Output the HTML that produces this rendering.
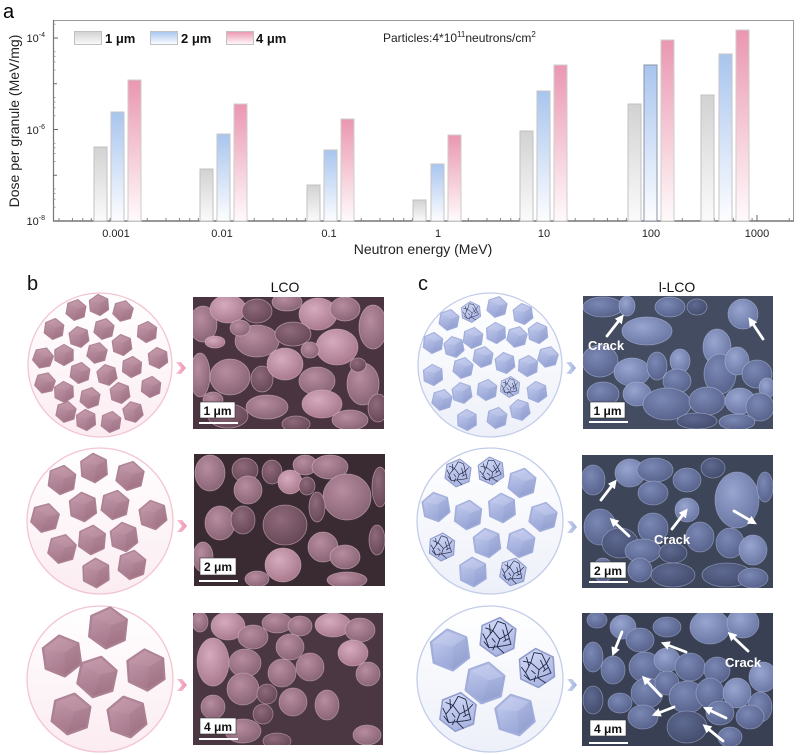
<!DOCTYPE html>
<html><head><meta charset="utf-8"><style>
html,body{margin:0;padding:0;background:#fff;}
svg{display:block;font-family:"Liberation Sans",Arial,sans-serif;}
</style></head><body>
<svg width="800" height="755" viewBox="0 0 800 755" xmlns="http://www.w3.org/2000/svg">
<defs>
<linearGradient id="gG" x1="0" y1="0" x2="0" y2="1"><stop offset="0" stop-color="#d2d2d2"/><stop offset="1" stop-color="#fbfbfb"/></linearGradient>
<linearGradient id="gB" x1="0" y1="0" x2="0" y2="1"><stop offset="0" stop-color="#a8c5ee"/><stop offset="1" stop-color="#fdfdff"/></linearGradient>
<linearGradient id="gP" x1="0" y1="0" x2="0" y2="1"><stop offset="0" stop-color="#ea97b0"/><stop offset="1" stop-color="#fffafb"/></linearGradient>
<linearGradient id="cP" x1="0" y1="0" x2="0" y2="1"><stop offset="0" stop-color="#ffffff"/><stop offset="1" stop-color="#fbecf1"/></linearGradient>
<linearGradient id="cB" x1="0" y1="0" x2="0" y2="1"><stop offset="0" stop-color="#ffffff"/><stop offset="1" stop-color="#edf0f9"/></linearGradient>
<linearGradient id="hP" x1="0.2" y1="0" x2="0.6" y2="1"><stop offset="0" stop-color="#c39bac"/><stop offset="1" stop-color="#a37587"/></linearGradient>
<linearGradient id="hB" x1="0.2" y1="0" x2="0.6" y2="1"><stop offset="0" stop-color="#c3ccf0"/><stop offset="1" stop-color="#95a2d3"/></linearGradient>
<linearGradient id="hBc" x1="0.2" y1="0" x2="0.6" y2="1"><stop offset="0" stop-color="#d3daf6"/><stop offset="1" stop-color="#a9b4e0"/></linearGradient>
<linearGradient id="chP" x1="0" y1="0" x2="1" y2="0"><stop offset="0" stop-color="#f7c3d2"/><stop offset="1" stop-color="#ee93b0"/></linearGradient>
<linearGradient id="chB" x1="0" y1="0" x2="1" y2="0"><stop offset="0" stop-color="#d1d9f1"/><stop offset="1" stop-color="#9fb0df"/></linearGradient>
<radialGradient id="pl" cx="0.4" cy="0.35" r="0.7"><stop offset="0" stop-color="#d6abbe"/><stop offset="1" stop-color="#a67689"/></radialGradient>
<radialGradient id="pm" cx="0.4" cy="0.35" r="0.7"><stop offset="0" stop-color="#b78c9f"/><stop offset="1" stop-color="#876374"/></radialGradient>
<radialGradient id="pd" cx="0.4" cy="0.35" r="0.7"><stop offset="0" stop-color="#8f6a7b"/><stop offset="1" stop-color="#654655"/></radialGradient>
<radialGradient id="bl" cx="0.4" cy="0.35" r="0.7"><stop offset="0" stop-color="#98a5cf"/><stop offset="1" stop-color="#6875a2"/></radialGradient>
<radialGradient id="bm" cx="0.4" cy="0.35" r="0.7"><stop offset="0" stop-color="#7a88b4"/><stop offset="1" stop-color="#56618a"/></radialGradient>
<radialGradient id="bd" cx="0.4" cy="0.35" r="0.7"><stop offset="0" stop-color="#5f6a92"/><stop offset="1" stop-color="#424b6b"/></radialGradient>
<g id="hexP"><polygon points="0,-10 8.66,-5 8.66,5 0,10 -8.66,5 -8.66,-5" fill="url(#hP)" stroke="#ad8294" stroke-width="1.2" stroke-linejoin="round"/><polygon points="0,-10 8.66,-5 1.5,-1.5 -8.66,-5" fill="#d0a9b9" opacity="0.18"/><polygon points="8.66,-5 8.66,5 0,10 1.5,-1.5" fill="#8d6273" opacity="0.12"/></g>
<g id="hexB"><polygon points="0,-10 8.66,-5 8.66,5 0,10 -8.66,5 -8.66,-5" fill="url(#hB)" stroke="#a2aedb" stroke-width="1.2" stroke-linejoin="round"/><polygon points="0,-10 8.66,-5 1.5,-1.5 -8.66,-5" fill="#dbe1f8" opacity="0.22"/><polygon points="8.66,-5 8.66,5 0,10 1.5,-1.5" fill="#7c89bf" opacity="0.12"/></g>
<g id="hexC"><polygon points="0,-10 8.66,-5 8.66,5 0,10 -8.66,5 -8.66,-5" fill="url(#hBc)" stroke="#8f9bcc" stroke-width="0.8" stroke-linejoin="round"/><path d="M-7,-4 L-3,-3 L-1,-8 M-3,-3 L1,1 L5,-2 L7,-5 M5,-2 L3,-7 M1,1 L0,5 L-4,6 L-7,3 M0,5 L4,8 M-3,-3 L-6,2 L-4,6 M5,-2 L7,3 L4,4 L0,5 M-1,-8 L3,-7 M-6,2 L-8,-1 M2,-4 L4,1 M-3,1 L-1,3 M-5,-6 L-4,-1 M6,0 L3,2 M-2,7 L-1,4" fill="none" stroke="#1d2342" stroke-width="0.45"/></g>
<marker id="ah" viewBox="0 0 10 10" refX="5" refY="5" markerWidth="3.2" markerHeight="3.2" orient="auto"><path d="M0,0 L10,5 L0,10 z" fill="#fff"/></marker>
<clipPath id="s1"><rect x="193" y="297" width="191" height="132"/></clipPath>
<clipPath id="s2"><rect x="194" y="454" width="191" height="132"/></clipPath>
<clipPath id="s3"><rect x="193" y="613" width="190" height="132"/></clipPath>
<clipPath id="s4"><rect x="583" y="296" width="190" height="133"/></clipPath>
<clipPath id="s5"><rect x="582" y="455" width="191" height="133"/></clipPath>
<clipPath id="s6"><rect x="582" y="613" width="191" height="133"/></clipPath>
</defs>

<!-- ===== Panel a ===== -->
<text x="3" y="18" font-size="20">a</text>
<rect x="53.5" y="20.5" width="740" height="200.5" fill="none" stroke="#9a9a9a" stroke-width="1"/>
<line x1="53" y1="221" x2="794" y2="221" stroke="#777" stroke-width="1.5"/>
<line x1="53.5" y1="20" x2="53.5" y2="221" stroke="#777" stroke-width="1.2"/>
<g stroke="#666" stroke-width="1">
<line x1="53" y1="38" x2="58" y2="38"/><line x1="53" y1="83.75" x2="57" y2="83.75"/><line x1="53" y1="129.5" x2="58" y2="129.5"/><line x1="53" y1="175.25" x2="57" y2="175.25"/>
</g>
<g stroke="#888" stroke-width="0.8">
<line x1="53" y1="207.2" x2="55.5" y2="207.2"/><line x1="53" y1="199.2" x2="55.5" y2="199.2"/><line x1="53" y1="193.5" x2="55.5" y2="193.5"/><line x1="53" y1="189" x2="55.5" y2="189"/>
<line x1="53" y1="161.5" x2="55.5" y2="161.5"/><line x1="53" y1="153.5" x2="55.5" y2="153.5"/><line x1="53" y1="147.8" x2="55.5" y2="147.8"/><line x1="53" y1="143.3" x2="55.5" y2="143.3"/>
<line x1="53" y1="115.7" x2="55.5" y2="115.7"/><line x1="53" y1="107.7" x2="55.5" y2="107.7"/><line x1="53" y1="102" x2="55.5" y2="102"/><line x1="53" y1="97.5" x2="55.5" y2="97.5"/>
<line x1="53" y1="70" x2="55.5" y2="70"/><line x1="53" y1="62" x2="55.5" y2="62"/><line x1="53" y1="56.3" x2="55.5" y2="56.3"/><line x1="53" y1="51.8" x2="55.5" y2="51.8"/>
<line x1="53" y1="24.2" x2="55.5" y2="24.2"/>
</g>
<g font-size="11" fill="#222" text-anchor="end">
<text x="45" y="42">10<tspan font-size="7" dy="-5">-4</tspan></text>
<text x="45" y="134">10<tspan font-size="7" dy="-5">-6</tspan></text>
<text x="45" y="225">10<tspan font-size="7" dy="-5">-8</tspan></text>
</g>
<text transform="translate(19,121) rotate(-90)" font-size="14" text-anchor="middle" fill="#222">Dose per granule (MeV/mg)</text>
<g stroke="#666" stroke-width="1">
<line x1="115" y1="221" x2="115" y2="215"/><line x1="222" y1="221" x2="222" y2="215"/><line x1="329" y1="221" x2="329" y2="215"/><line x1="436" y1="221" x2="436" y2="215"/><line x1="543" y1="221" x2="543" y2="215"/><line x1="650" y1="221" x2="650" y2="215"/><line x1="757" y1="221" x2="757" y2="215"/>
</g>
<g stroke="#777" stroke-width="0.9">
<path d="M59,221v-3M72.4,221v-3M82.8,221v-3M91.3,221v-3M98.4,221v-3M104.6,221v-3M110.1,221v-3
M147.2,221v-3M166,221v-3M179.4,221v-3M189.8,221v-3M198.3,221v-3M205.4,221v-3M211.6,221v-3M217.1,221v-3
M254.2,221v-3M273,221v-3M286.4,221v-3M296.8,221v-3M305.3,221v-3M312.4,221v-3M318.6,221v-3M324.1,221v-3
M361.2,221v-3M380,221v-3M393.4,221v-3M403.8,221v-3M412.3,221v-3M419.4,221v-3M425.6,221v-3M431.1,221v-3
M468.2,221v-3M487,221v-3M500.4,221v-3M510.8,221v-3M519.3,221v-3M526.4,221v-3M532.6,221v-3M538.1,221v-3
M575.2,221v-3M594,221v-3M607.4,221v-3M617.8,221v-3M626.3,221v-3M633.4,221v-3M639.6,221v-3M645.1,221v-3
M682.2,221v-3M701,221v-3M714.4,221v-3M724.8,221v-3M733.3,221v-3M740.4,221v-3M746.6,221v-3M752.1,221v-3M789.2,221v-3"/>
</g>
<g font-size="11" fill="#222" text-anchor="middle">
<text x="116" y="237">0.001</text><text x="222" y="237">0.01</text><text x="329" y="237">0.1</text><text x="438" y="237">1</text><text x="544" y="237">10</text><text x="651" y="237">100</text><text x="757" y="237">1000</text>
</g>
<text x="423" y="254" font-size="14" text-anchor="middle" fill="#222">Neutron energy (MeV)</text>
<g stroke-width="1">
<rect x="94" y="147" width="13" height="74" fill="url(#gG)" stroke="#c2c2c2"/>
<rect x="111" y="112" width="13" height="109" fill="url(#gB)" stroke="#c6c6c6"/>
<rect x="128" y="80" width="13" height="141" fill="url(#gP)" stroke="#cdcdcd"/>
<rect x="200" y="169" width="13" height="52" fill="url(#gG)" stroke="#c2c2c2"/>
<rect x="217" y="134" width="13" height="87" fill="url(#gB)" stroke="#c6c6c6"/>
<rect x="234" y="104" width="13" height="117" fill="url(#gP)" stroke="#cdcdcd"/>
<rect x="307" y="185" width="13" height="36" fill="url(#gG)" stroke="#c2c2c2"/>
<rect x="324" y="150" width="13" height="71" fill="url(#gB)" stroke="#c6c6c6"/>
<rect x="341" y="119" width="13" height="102" fill="url(#gP)" stroke="#cdcdcd"/>
<rect x="413" y="200" width="13" height="21" fill="url(#gG)" stroke="#c2c2c2"/>
<rect x="431" y="164" width="13" height="57" fill="url(#gB)" stroke="#c6c6c6"/>
<rect x="448" y="135" width="13" height="86" fill="url(#gP)" stroke="#cdcdcd"/>
<rect x="520" y="131" width="13" height="90" fill="url(#gG)" stroke="#c2c2c2"/>
<rect x="537" y="91" width="13" height="130" fill="url(#gB)" stroke="#c6c6c6"/>
<rect x="554" y="65" width="13" height="156" fill="url(#gP)" stroke="#cdcdcd"/>
<rect x="628" y="104" width="13" height="117" fill="url(#gG)" stroke="#c2c2c2"/>
<rect x="644" y="65" width="13" height="156" fill="url(#gB)" stroke="#8a93a8"/>
<rect x="661" y="40" width="13" height="181" fill="url(#gP)" stroke="#cdcdcd"/>
<rect x="701" y="95" width="13" height="126" fill="url(#gG)" stroke="#c2c2c2"/>
<rect x="719" y="54" width="13" height="167" fill="url(#gB)" stroke="#c6c6c6"/>
<rect x="736" y="30" width="13" height="191" fill="url(#gP)" stroke="#cdcdcd"/>
</g>
<rect x="74.5" y="31.5" width="27" height="13" fill="url(#gG)" stroke="#c2c2c2"/>
<rect x="150.5" y="31.5" width="27" height="13" fill="url(#gB)" stroke="#c2c2c2"/>
<rect x="226.5" y="31.5" width="27" height="13" fill="url(#gP)" stroke="#c2c2c2"/>
<g font-size="13" font-weight="bold" fill="#111">
<text x="105" y="43">1 μm</text><text x="181" y="43">2 μm</text><text x="256" y="43">4 μm</text>
</g>
<text x="383" y="42" font-size="12" fill="#222">Particles:4*10<tspan font-size="8" dy="-5">11</tspan><tspan dy="5">neutrons/cm</tspan><tspan font-size="8" dy="-5">2</tspan></text>

<!-- ===== Panels b / c ===== -->
<text x="27" y="290" font-size="20" fill="#111">b</text>
<text x="285" y="292" font-size="14" text-anchor="middle" fill="#111">LCO</text>
<text x="418" y="290" font-size="20" fill="#111">c</text>
<text x="677" y="292" font-size="14" text-anchor="middle" fill="#111">l-LCO</text>

<circle cx="100" cy="365" r="72" fill="url(#cP)" stroke="#f3c4d2" stroke-width="1.3"/>
<circle cx="100" cy="521" r="73" fill="url(#cP)" stroke="#f3c4d2" stroke-width="1.3"/>
<circle cx="100" cy="679" r="73" fill="url(#cP)" stroke="#f3c4d2" stroke-width="1.3"/>
<circle cx="490" cy="365" r="72" fill="url(#cB)" stroke="#c3cdea" stroke-width="1.3"/>
<circle cx="490" cy="521" r="73" fill="url(#cB)" stroke="#c3cdea" stroke-width="1.3"/>
<circle cx="490" cy="679" r="73" fill="url(#cB)" stroke="#c3cdea" stroke-width="1.3"/>

<g>
<use href="#hexP" transform="translate(76,310) scale(1.05) rotate(10)"/>
<use href="#hexP" transform="translate(99,305) scale(1.05) rotate(-5)"/>
<use href="#hexP" transform="translate(123,311) scale(1.05) rotate(15)"/>
<use href="#hexP" transform="translate(54,329) scale(1.05) rotate(8)"/>
<use href="#hexP" transform="translate(79,337) scale(1.05) rotate(-10)"/>
<use href="#hexP" transform="translate(104,329) scale(1.05) rotate(12)"/>
<use href="#hexP" transform="translate(147,332) scale(1.05) rotate(5)"/>
<use href="#hexP" transform="translate(122,345) scale(1.05) rotate(-8)"/>
<use href="#hexP" transform="translate(43,358) scale(1.05) rotate(20)"/>
<use href="#hexP" transform="translate(64,355) scale(1.05) rotate(0)"/>
<use href="#hexP" transform="translate(97,353) scale(1.05) rotate(14)"/>
<use href="#hexP" transform="translate(158,358) scale(1.05) rotate(-6)"/>
<use href="#hexP" transform="translate(80,373) scale(1.05) rotate(9)"/>
<use href="#hexP" transform="translate(107,375) scale(1.05) rotate(-12)"/>
<use href="#hexP" transform="translate(132,367) scale(1.05) rotate(4)"/>
<use href="#hexP" transform="translate(45,383) scale(1.05) rotate(18)"/>
<use href="#hexP" transform="translate(64,392) scale(1.05) rotate(-3)"/>
<use href="#hexP" transform="translate(90,398) scale(1.05) rotate(10)"/>
<use href="#hexP" transform="translate(120,393) scale(1.05) rotate(-9)"/>
<use href="#hexP" transform="translate(151,387) scale(1.05) rotate(6)"/>
<use href="#hexP" transform="translate(66,412) scale(1.05) rotate(12)"/>
<use href="#hexP" transform="translate(86,420) scale(1.05) rotate(-4)"/>
<use href="#hexP" transform="translate(111,422) scale(1.05) rotate(8)"/>
<use href="#hexP" transform="translate(133,412) scale(1.05) rotate(-14)"/>
</g>
<g>
<use href="#hexP" transform="translate(62,480) scale(1.45) rotate(8)"/>
<use href="#hexP" transform="translate(94,468) scale(1.45) rotate(-4)"/>
<use href="#hexP" transform="translate(130,476) scale(1.45) rotate(12)"/>
<use href="#hexP" transform="translate(45,518) scale(1.45) rotate(15)"/>
<use href="#hexP" transform="translate(83,507) scale(1.45) rotate(-6)"/>
<use href="#hexP" transform="translate(115,505) scale(1.45) rotate(10)"/>
<use href="#hexP" transform="translate(153,515) scale(1.45) rotate(-10)"/>
<use href="#hexP" transform="translate(92,540) scale(1.45) rotate(5)"/>
<use href="#hexP" transform="translate(124,537) scale(1.45) rotate(-8)"/>
<use href="#hexP" transform="translate(62,549) scale(1.45) rotate(14)"/>
<use href="#hexP" transform="translate(96,573) scale(1.45) rotate(-2)"/>
<use href="#hexP" transform="translate(132,565) scale(1.45) rotate(9)"/>
</g>
<g>
<use href="#hexP" transform="translate(108,628) scale(2.05) rotate(6)"/>
<use href="#hexP" transform="translate(62,656) scale(2.05) rotate(-8)"/>
<use href="#hexP" transform="translate(97,677) scale(2.05) rotate(12)"/>
<use href="#hexP" transform="translate(146,670) scale(2.05) rotate(-4)"/>
<use href="#hexP" transform="translate(71,714) scale(2.05) rotate(10)"/>
<use href="#hexP" transform="translate(127,717) scale(2.05) rotate(-10)"/>
</g>
<g>
<use href="#hexB" transform="translate(449,320) scale(1.05) rotate(10)"/>
<use href="#hexC" transform="translate(471,312) scale(1.05) rotate(-5)"/>
<use href="#hexB" transform="translate(497,307) scale(1.05) rotate(12)"/>
<use href="#hexB" transform="translate(523,314) scale(1.05) rotate(-8)"/>
<use href="#hexB" transform="translate(433,343) scale(1.05) rotate(6)"/>
<use href="#hexB" transform="translate(454,347) scale(1.05) rotate(-12)"/>
<use href="#hexB" transform="translate(473,338) scale(1.05) rotate(8)"/>
<use href="#hexB" transform="translate(496,333) scale(1.05) rotate(-3)"/>
<use href="#hexB" transform="translate(517,337) scale(1.05) rotate(14)"/>
<use href="#hexB" transform="translate(538,333) scale(1.05) rotate(-6)"/>
<use href="#hexB" transform="translate(483,357) scale(1.05) rotate(10)"/>
<use href="#hexB" transform="translate(505,363) scale(1.05) rotate(-9)"/>
<use href="#hexB" transform="translate(528,366) scale(1.05) rotate(4)"/>
<use href="#hexB" transform="translate(548,357) scale(1.05) rotate(16)"/>
<use href="#hexB" transform="translate(433,375) scale(1.05) rotate(-4)"/>
<use href="#hexB" transform="translate(463,368) scale(1.05) rotate(11)"/>
<use href="#hexC" transform="translate(510,387) scale(1.05) rotate(5)"/>
<use href="#hexB" transform="translate(462,393) scale(1.05) rotate(-10)"/>
<use href="#hexB" transform="translate(487,390) scale(1.05) rotate(7)"/>
<use href="#hexB" transform="translate(537,392) scale(1.05) rotate(-7)"/>
<use href="#hexB" transform="translate(442,400) scale(1.05) rotate(13)"/>
<use href="#hexB" transform="translate(467,420) scale(1.05) rotate(-2)"/>
<use href="#hexB" transform="translate(497,418) scale(1.05) rotate(9)"/>
<use href="#hexB" transform="translate(520,410) scale(1.05) rotate(-12)"/>
</g>
<g>
<use href="#hexC" transform="translate(458,473) scale(1.4) rotate(8)"/>
<use href="#hexC" transform="translate(491,471) scale(1.4) rotate(-6)"/>
<use href="#hexB" transform="translate(522,483) scale(1.45) rotate(10)"/>
<use href="#hexB" transform="translate(436,507) scale(1.45) rotate(-10)"/>
<use href="#hexB" transform="translate(468,515) scale(1.45) rotate(6)"/>
<use href="#hexB" transform="translate(502,508) scale(1.45) rotate(-4)"/>
<use href="#hexB" transform="translate(543,517) scale(1.45) rotate(12)"/>
<use href="#hexC" transform="translate(442,547) scale(1.4) rotate(4)"/>
<use href="#hexB" transform="translate(487,543) scale(1.45) rotate(-8)"/>
<use href="#hexB" transform="translate(521,543) scale(1.45) rotate(9)"/>
<use href="#hexB" transform="translate(473,572) scale(1.45) rotate(-3)"/>
<use href="#hexC" transform="translate(513,572) scale(1.4) rotate(11)"/>
</g>
<g>
<use href="#hexB" transform="translate(450,650) scale(2.05) rotate(-8)"/>
<use href="#hexC" transform="translate(498,637) scale(1.95) rotate(6)"/>
<use href="#hexB" transform="translate(485,683) scale(2.05) rotate(10)"/>
<use href="#hexC" transform="translate(537,668) scale(1.95) rotate(-4)"/>
<use href="#hexC" transform="translate(458,712) scale(1.95) rotate(8)"/>
<use href="#hexB" transform="translate(515,715) scale(2.05) rotate(-12)"/>
</g>

<g fill="url(#chP)">
<path d="M176,362 L181,362 L186,368 L181,374 L176,374 L181,368 z"/>
<path d="M177,520 L182,520 L187,526 L182,532 L177,532 L182,526 z"/>
<path d="M177,679 L182,679 L187,685 L182,691 L177,691 L182,685 z"/>
</g>
<g fill="url(#chB)">
<path d="M566,362 L571,362 L576,368 L571,374 L566,374 L571,368 z"/>
<path d="M567,521 L572,521 L577,527 L572,533 L567,533 L572,527 z"/>
<path d="M567,679 L572,679 L577,685 L572,691 L567,691 L572,685 z"/>
</g>

<!-- SEM b1 -->
<g clip-path="url(#s1)">
<rect x="193" y="297" width="191" height="132" fill="#4a3440"/>
<g stroke="#e7c6d4" stroke-width="0.8" stroke-opacity="0.55">
<ellipse cx="203" cy="324" rx="14" ry="18" fill="url(#pm)"/>
<ellipse cx="228" cy="309" rx="18" ry="14" fill="url(#pl)"/>
<ellipse cx="257" cy="311" rx="15" ry="12" fill="url(#pd)"/>
<ellipse cx="287" cy="302" rx="15" ry="9" fill="url(#pm)"/>
<ellipse cx="318" cy="314" rx="19" ry="16" fill="url(#pl)"/>
<ellipse cx="345" cy="309" rx="15" ry="12" fill="url(#pm)"/>
<ellipse cx="373" cy="327" rx="14" ry="22" fill="url(#pm)"/>
<ellipse cx="257" cy="341" rx="22" ry="16" fill="url(#pm)"/>
<ellipse cx="293" cy="334" rx="18" ry="12" fill="url(#pd)"/>
<ellipse cx="215" cy="342" rx="10" ry="6" fill="url(#pl)"/>
<ellipse cx="337" cy="347" rx="21" ry="18" fill="url(#pl)"/>
<ellipse cx="200" cy="375" rx="10" ry="22" fill="url(#pm)"/>
<ellipse cx="230" cy="377" rx="20" ry="18" fill="url(#pm)"/>
<ellipse cx="262" cy="379" rx="11" ry="13" fill="url(#pd)"/>
<ellipse cx="285" cy="364" rx="18" ry="16" fill="url(#pl)"/>
<ellipse cx="317" cy="381" rx="18" ry="14" fill="url(#pm)"/>
<ellipse cx="363" cy="384" rx="16" ry="21" fill="url(#pm)"/>
<ellipse cx="378" cy="408" rx="10" ry="14" fill="url(#pd)"/>
<ellipse cx="267" cy="407" rx="21" ry="12" fill="url(#pm)"/>
<ellipse cx="322" cy="404" rx="20" ry="14" fill="url(#pl)"/>
<ellipse cx="350" cy="420" rx="18" ry="10" fill="url(#pm)"/>
<ellipse cx="228" cy="416" rx="20" ry="12" fill="url(#pd)"/>
<ellipse cx="296" cy="424" rx="14" ry="8" fill="url(#pd)"/>
<ellipse cx="240" cy="328" rx="10" ry="8" fill="url(#pm)"/>
<ellipse cx="310" cy="350" rx="9" ry="8" fill="url(#pm)"/>
<ellipse cx="358" cy="365" rx="8" ry="7" fill="url(#pd)"/>
<ellipse cx="213" cy="400" rx="10" ry="8" fill="url(#pm)"/>
</g>
</g>
<!-- SEM b2 -->
<g clip-path="url(#s2)">
<rect x="194" y="454" width="191" height="132" fill="#3a2a32"/>
<g stroke="#e7c6d4" stroke-width="0.8" stroke-opacity="0.55">
<ellipse cx="210" cy="473" rx="15" ry="18" fill="url(#pm)"/>
<ellipse cx="245" cy="470" rx="13" ry="12" fill="url(#pd)"/>
<ellipse cx="248" cy="490" rx="14" ry="14" fill="url(#pm)"/>
<ellipse cx="272" cy="472" rx="10" ry="12" fill="url(#pd)"/>
<ellipse cx="290" cy="482" rx="12" ry="12" fill="url(#pl)"/>
<ellipse cx="305" cy="465" rx="12" ry="10" fill="url(#pm)"/>
<ellipse cx="307" cy="486" rx="8" ry="9" fill="url(#pd)"/>
<ellipse cx="330" cy="467" rx="18" ry="12" fill="url(#pm)"/>
<ellipse cx="347" cy="497" rx="24" ry="23" fill="url(#pm)"/>
<ellipse cx="380" cy="487" rx="8" ry="20" fill="url(#pd)"/>
<ellipse cx="220" cy="523" rx="15" ry="17" fill="url(#pm)"/>
<ellipse cx="243" cy="520" rx="12" ry="14" fill="url(#pd)"/>
<ellipse cx="285" cy="525" rx="22" ry="20" fill="url(#pd)"/>
<ellipse cx="317" cy="507" rx="8" ry="15" fill="url(#pd)"/>
<ellipse cx="323" cy="547" rx="15" ry="15" fill="url(#pm)"/>
<ellipse cx="345" cy="557" rx="15" ry="12" fill="url(#pm)"/>
<ellipse cx="283" cy="565" rx="18" ry="17" fill="url(#pl)"/>
<ellipse cx="203" cy="557" rx="10" ry="15" fill="url(#pm)"/>
<ellipse cx="377" cy="540" rx="8" ry="15" fill="url(#pd)"/>
<ellipse cx="257" cy="579" rx="12" ry="8" fill="url(#pm)"/>
<ellipse cx="347" cy="580" rx="20" ry="8" fill="url(#pm)"/>
</g>
</g>
<!-- SEM b3 -->
<g clip-path="url(#s3)">
<rect x="193" y="613" width="190" height="132" fill="#4a3742"/>
<g stroke="#e7c6d4" stroke-width="0.8" stroke-opacity="0.5">
<ellipse cx="200" cy="622" rx="8" ry="10" fill="url(#pm)"/>
<ellipse cx="228" cy="626" rx="17" ry="14" fill="url(#pl)"/>
<ellipse cx="253" cy="637" rx="15" ry="12" fill="url(#pm)"/>
<ellipse cx="277" cy="623" rx="15" ry="10" fill="url(#pm)"/>
<ellipse cx="300" cy="626" rx="12" ry="10" fill="url(#pm)"/>
<ellipse cx="333" cy="625" rx="18" ry="12" fill="url(#pl)"/>
<ellipse cx="360" cy="630" rx="15" ry="12" fill="url(#pm)"/>
<ellipse cx="213" cy="662" rx="16" ry="24" fill="url(#pl)"/>
<ellipse cx="245" cy="663" rx="16" ry="14" fill="url(#pm)"/>
<ellipse cx="290" cy="647" rx="14" ry="13" fill="url(#pm)"/>
<ellipse cx="310" cy="667" rx="14" ry="14" fill="url(#pm)"/>
<ellipse cx="353" cy="653" rx="15" ry="13" fill="url(#pl)"/>
<ellipse cx="368" cy="674" rx="12" ry="12" fill="url(#pm)"/>
<ellipse cx="243" cy="689" rx="16" ry="16" fill="url(#pm)"/>
<ellipse cx="282" cy="673" rx="14" ry="14" fill="url(#pm)"/>
<ellipse cx="267" cy="694" rx="10" ry="10" fill="url(#pd)"/>
<ellipse cx="293" cy="702" rx="14" ry="14" fill="url(#pm)"/>
<ellipse cx="327" cy="705" rx="12" ry="15" fill="url(#pm)"/>
<ellipse cx="263" cy="714" rx="10" ry="10" fill="url(#pd)"/>
<ellipse cx="213" cy="707" rx="12" ry="12" fill="url(#pm)"/>
<ellipse cx="243" cy="731" rx="18" ry="12" fill="url(#pm)"/>
<ellipse cx="277" cy="741" rx="14" ry="8" fill="url(#pd)"/>
<ellipse cx="367" cy="735" rx="14" ry="10" fill="url(#pm)"/>
</g>
</g>

<!-- SEM c1 -->
<g clip-path="url(#s4)">
<rect x="583" y="296" width="190" height="133" fill="#444c62"/>
<g stroke="#bcc6e8" stroke-width="0.8" stroke-opacity="0.55">
<ellipse cx="603" cy="307" rx="20" ry="10" fill="url(#bm)"/>
<ellipse cx="627" cy="306" rx="8" ry="10" fill="url(#bl)"/>
<ellipse cx="670" cy="307" rx="15" ry="10" fill="url(#bm)"/>
<ellipse cx="697" cy="307" rx="10" ry="8" fill="url(#bd)"/>
<ellipse cx="647" cy="331" rx="25" ry="14" fill="url(#bl)"/>
<ellipse cx="743" cy="314" rx="15" ry="15" fill="url(#bl)"/>
<ellipse cx="600" cy="361" rx="18" ry="16" fill="url(#bm)"/>
<ellipse cx="632" cy="372" rx="18" ry="14" fill="url(#bl)"/>
<ellipse cx="657" cy="366" rx="10" ry="14" fill="url(#bm)"/>
<ellipse cx="680" cy="361" rx="10" ry="12" fill="url(#bl)"/>
<ellipse cx="677" cy="381" rx="14" ry="12" fill="url(#bm)"/>
<ellipse cx="717" cy="347" rx="14" ry="18" fill="url(#bl)"/>
<ellipse cx="720" cy="374" rx="16" ry="20" fill="url(#bm)"/>
<ellipse cx="737" cy="361" rx="12" ry="14" fill="url(#bl)"/>
<ellipse cx="757" cy="374" rx="15" ry="14" fill="url(#bm)"/>
<ellipse cx="767" cy="388" rx="8" ry="10" fill="url(#bl)"/>
<ellipse cx="603" cy="394" rx="16" ry="12" fill="url(#bm)"/>
<ellipse cx="637" cy="394" rx="14" ry="12" fill="url(#bl)"/>
<ellipse cx="667" cy="404" rx="24" ry="16" fill="url(#bm)"/>
<ellipse cx="707" cy="401" rx="18" ry="14" fill="url(#bm)"/>
<ellipse cx="740" cy="401" rx="15" ry="13" fill="url(#bl)"/>
<ellipse cx="760" cy="407" rx="14" ry="14" fill="url(#bm)"/>
<ellipse cx="697" cy="421" rx="20" ry="8" fill="url(#bd)"/>
<ellipse cx="737" cy="422" rx="18" ry="8" fill="url(#bm)"/>
</g>
</g>
<!-- SEM c2 -->
<g clip-path="url(#s5)">
<rect x="582" y="455" width="191" height="133" fill="#3d4559"/>
<g stroke="#bcc6e8" stroke-width="0.8" stroke-opacity="0.5">
<ellipse cx="593" cy="480" rx="12" ry="15" fill="url(#bm)"/>
<ellipse cx="630" cy="473" rx="15" ry="14" fill="url(#bl)"/>
<ellipse cx="655" cy="470" rx="18" ry="12" fill="url(#bm)"/>
<ellipse cx="653" cy="493" rx="15" ry="12" fill="url(#bm)"/>
<ellipse cx="687" cy="480" rx="14" ry="12" fill="url(#bm)"/>
<ellipse cx="713" cy="468" rx="12" ry="10" fill="url(#bd)"/>
<ellipse cx="737" cy="500" rx="22" ry="28" fill="url(#bl)"/>
<ellipse cx="765" cy="487" rx="8" ry="15" fill="url(#bm)"/>
<ellipse cx="600" cy="527" rx="16" ry="18" fill="url(#bm)"/>
<ellipse cx="620" cy="543" rx="18" ry="15" fill="url(#bd)"/>
<ellipse cx="653" cy="528" rx="15" ry="15" fill="url(#bm)"/>
<ellipse cx="687" cy="510" rx="12" ry="12" fill="url(#bl)"/>
<ellipse cx="700" cy="537" rx="14" ry="15" fill="url(#bm)"/>
<ellipse cx="730" cy="543" rx="14" ry="15" fill="url(#bm)"/>
<ellipse cx="753" cy="550" rx="14" ry="15" fill="url(#bl)"/>
<ellipse cx="643" cy="551" rx="18" ry="12" fill="url(#bm)"/>
<ellipse cx="673" cy="553" rx="14" ry="10" fill="url(#bd)"/>
<ellipse cx="603" cy="570" rx="10" ry="12" fill="url(#bm)"/>
<ellipse cx="640" cy="570" rx="12" ry="12" fill="url(#bm)"/>
<ellipse cx="673" cy="575" rx="22" ry="12" fill="url(#bd)"/>
<ellipse cx="727" cy="575" rx="25" ry="12" fill="url(#bd)"/>
<ellipse cx="753" cy="578" rx="15" ry="10" fill="url(#bm)"/>
</g>
</g>
<!-- SEM c3 -->
<g clip-path="url(#s6)">
<rect x="582" y="613" width="191" height="133" fill="#394054"/>
<g stroke="#bcc6e8" stroke-width="0.8" stroke-opacity="0.5">
<ellipse cx="597" cy="620" rx="10" ry="8" fill="url(#bm)"/>
<ellipse cx="623" cy="627" rx="13" ry="12" fill="url(#bl)"/>
<ellipse cx="640" cy="640" rx="14" ry="12" fill="url(#bm)"/>
<ellipse cx="667" cy="627" rx="14" ry="10" fill="url(#bm)"/>
<ellipse cx="710" cy="627" rx="20" ry="17" fill="url(#bl)"/>
<ellipse cx="743" cy="623" rx="16" ry="15" fill="url(#bl)"/>
<ellipse cx="593" cy="657" rx="10" ry="15" fill="url(#bm)"/>
<ellipse cx="613" cy="670" rx="12" ry="14" fill="url(#bm)"/>
<ellipse cx="645" cy="667" rx="16" ry="15" fill="url(#bm)"/>
<ellipse cx="667" cy="660" rx="13" ry="12" fill="url(#bl)"/>
<ellipse cx="690" cy="667" rx="15" ry="14" fill="url(#bm)"/>
<ellipse cx="717" cy="670" rx="13" ry="13" fill="url(#bm)"/>
<ellipse cx="763" cy="677" rx="14" ry="15" fill="url(#bl)"/>
<ellipse cx="647" cy="693" rx="16" ry="15" fill="url(#bm)"/>
<ellipse cx="667" cy="683" rx="12" ry="12" fill="url(#bm)"/>
<ellipse cx="687" cy="697" rx="18" ry="16" fill="url(#bm)"/>
<ellipse cx="710" cy="693" rx="14" ry="15" fill="url(#bm)"/>
<ellipse cx="737" cy="693" rx="14" ry="15" fill="url(#bl)"/>
<ellipse cx="760" cy="707" rx="12" ry="15" fill="url(#bm)"/>
<ellipse cx="593" cy="700" rx="10" ry="14" fill="url(#bd)"/>
<ellipse cx="620" cy="703" rx="12" ry="10" fill="url(#bm)"/>
<ellipse cx="643" cy="717" rx="15" ry="12" fill="url(#bm)"/>
<ellipse cx="687" cy="727" rx="20" ry="16" fill="url(#bd)"/>
<ellipse cx="720" cy="713" rx="14" ry="12" fill="url(#bm)"/>
<ellipse cx="750" cy="717" rx="14" ry="12" fill="url(#bm)"/>
<ellipse cx="730" cy="737" rx="12" ry="10" fill="url(#bm)"/>
</g>
</g>

<!-- white crack arrows -->
<g stroke="#fff" stroke-width="2.8" marker-end="url(#ah)" fill="none" stroke-linecap="round">
<line x1="607" y1="336" x2="621" y2="318"/>
<line x1="763" y1="339" x2="751" y2="321"/>
<line x1="601" y1="500" x2="614" y2="483"/>
<line x1="629" y1="536" x2="613" y2="521"/>
<line x1="672" y1="529" x2="685" y2="512"/>
<line x1="734" y1="511" x2="753" y2="522"/>
<line x1="622" y1="632" x2="614" y2="652"/>
<line x1="686" y1="652" x2="665" y2="644"/>
<line x1="748" y1="651" x2="731" y2="635"/>
<line x1="661" y1="696" x2="645" y2="679"/>
<line x1="674" y1="707" x2="656" y2="714"/>
<line x1="726" y1="718" x2="707" y2="709"/>
<line x1="723" y1="741" x2="706" y2="727"/>
</g>
<g font-size="13" font-weight="bold" fill="#fff">
<text x="588" y="350">Crack</text>
<text x="654" y="544">Crack</text>
<text x="725" y="667">Crack</text>
</g>

<!-- scale bars -->
<g>
<rect x="200" y="402" width="35" height="16" fill="#fff" stroke="#333" stroke-width="0.6"/>
<text x="217.5" y="415" font-size="12" font-weight="bold" text-anchor="middle" fill="#111">1 μm</text>
<line x1="199" y1="423" x2="238" y2="423" stroke="#fff" stroke-width="2"/>
<rect x="200" y="558" width="36" height="17" fill="#fff" stroke="#333" stroke-width="0.6"/>
<text x="218" y="571" font-size="12" font-weight="bold" text-anchor="middle" fill="#111">2 μm</text>
<line x1="199" y1="581" x2="238" y2="581" stroke="#fff" stroke-width="2"/>
<rect x="200" y="718" width="36" height="16" fill="#fff" stroke="#333" stroke-width="0.6"/>
<text x="218" y="731" font-size="12" font-weight="bold" text-anchor="middle" fill="#111">4 μm</text>
<line x1="199" y1="739" x2="238" y2="739" stroke="#fff" stroke-width="2"/>
<rect x="590" y="402" width="35" height="16" fill="#fff" stroke="#333" stroke-width="0.6"/>
<text x="607.5" y="415" font-size="12" font-weight="bold" text-anchor="middle" fill="#111">1 μm</text>
<line x1="589" y1="422" x2="628" y2="422" stroke="#fff" stroke-width="2"/>
<rect x="590" y="562" width="36" height="16" fill="#fff" stroke="#333" stroke-width="0.6"/>
<text x="608" y="575" font-size="12" font-weight="bold" text-anchor="middle" fill="#111">2 μm</text>
<line x1="589" y1="582" x2="628" y2="582" stroke="#fff" stroke-width="2"/>
<rect x="590" y="720" width="36" height="16" fill="#fff" stroke="#333" stroke-width="0.6"/>
<text x="608" y="733" font-size="12" font-weight="bold" text-anchor="middle" fill="#111">4 μm</text>
<line x1="589" y1="743" x2="628" y2="743" stroke="#fff" stroke-width="2"/>
</g>
</svg>
</body></html>
